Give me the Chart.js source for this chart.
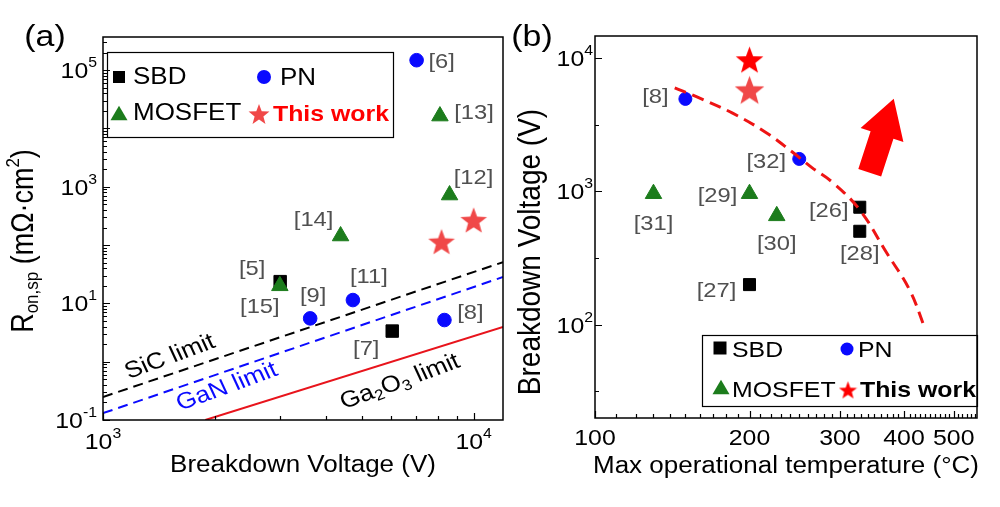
<!DOCTYPE html>
<html>
<head>
<meta charset="utf-8">
<script src="https://cdn.jsdelivr.net/npm/chart.js@4/dist/chart.umd.min.js"></script>
<style>
  body { margin: 0; background: #fff; }
  #wrap { position: relative; width: 1000px; height: 507px; overflow: hidden; }
  canvas { position: absolute; top: 0; }
  #chartA { left: 0; }
  #chartB { left: 500px; }
</style>
</head>
<body>
<div id="wrap">
  <canvas id="chartA" width="520" height="507"></canvas>
  <canvas id="chartB" width="500" height="507"></canvas>
</div>
<script>
// ---- panel (a): Ron,sp vs breakdown voltage ----
const sbdV = [3006, 6030];
const sbdR = [23.6, 3.35];
const sbdRefs = ['[5]', '[7]'];
const pnV = [7016, 3622, 4723, 8340];
const pnR = [148000, 5.53, 11.4, 5.18];
const pnRefs = ['[6]', '[9]', '[11]', '[8]'];
const mosV = [3000, 4375, 8610, 8110];
const mosR = [20, 143, 721, 16300];
const mosRefs = ['[15]', '[14]', '[12]', '[13]'];
const starV = [8190, 10000];
const starR = [114, 268];
const limitV = [1000, 12000];
const sicR = [0.248, 51];
const ganR = [0.131, 28.3];
const ga2o3V = [1888, 12000];
const ga2o3R = [0.1, 3.93];
const xTicksA = [1000, 10000];
const yTicksA = [0.1, 10, 1000, 100000];

// ---- panel (b): breakdown voltage vs max operational temperature ----
const sbdT = [328, 328, 200];
const sbdBV = [760, 502, 200];
const sbdRefsB = ['[26]', '[28]', '[27]'];
const pnT = [150, 250];
const pnBV = [4930, 1750];
const pnRefsB = ['[8]', '[32]'];
const mosT = [130, 200, 226];
const mosBV = [960, 960, 655];
const mosRefsB = ['[31]', '[29]', '[30]'];
const starT = [200, 200];
const starBV = [9700, 5760];
const trendT = [143, 158, 185, 216, 242, 265, 290, 328, 370, 410, 439];
const trendBV = [5960, 5100, 3870, 2740, 1980, 1500, 1170, 726, 346, 183, 95];
const arrowFrom = [343, 1377];
const arrowTo = [382, 4936];
const xTicksB = [100, 200, 300, 400, 500];
const yTicksB = [100, 1000, 10000];

// label offsets (px from the marker)
const sbdOffA = [[-28, -12], [-26, 18]];
const pnOffA = [[25, 2], [3, -22], [16, -23], [26, -7]];
const mosOffA = [[-20, 21], [-27, -16], [24, -17], [34, -3]];
const sbdOffB = [[-31, 4], [0, 23], [-33, 7]];
const pnOffB = [[-30, -2], [-33, 3]];
const mosOffB = [[0, 30], [-32, 2], [0, 28]];

const SX = 1.13;
const FONT = '"Liberation Sans", Arial, sans-serif';
const GREEN = '#1c7c1c';
const BLUE = '#0a0aff';
const GRAY = '#505050';
const f = (px, bold) => (bold ? 'bold ' : '') + px + 'px ' + FONT;
const pts = (xs, ys) => xs.map((v, i) => ({ x: v, y: ys[i] }));

function makeStar(size, color) {
  const c = document.createElement('canvas');
  c.width = c.height = size;
  const g = c.getContext('2d');
  const R = size / 2, r = R * 0.42, cy = R * 1.09;
  g.beginPath();
  for (let i = 0; i < 10; i++) {
    const a = -Math.PI / 2 + i * Math.PI / 5;
    const rr = i % 2 ? r : R;
    g.lineTo(R + rr * Math.cos(a), cy + rr * Math.sin(a));
  }
  g.closePath();
  g.fillStyle = color;
  g.fill();
  return c;
}

// text made of runs (for super/subscripts), stretched a bit horizontally
function drawRuns(ctx, runs, x, y, align, angle, color) {
  ctx.save();
  ctx.translate(x, y);
  ctx.scale(SX, 1);
  if (angle) ctx.rotate(angle);
  let w = 0;
  runs.forEach(r => { ctx.font = r.f; w += ctx.measureText(r.t).width; });
  let cx = align === 'left' ? 0 : align === 'right' ? -w : -w / 2;
  ctx.textBaseline = 'middle';
  ctx.textAlign = 'left';
  runs.forEach(r => {
    ctx.font = r.f;
    ctx.fillStyle = r.c || color || '#000';
    ctx.fillText(r.t, cx, r.dy || 0);
    cx += ctx.measureText(r.t).width;
  });
  ctx.restore();
}
const txt = (ctx, s, x, y, font, align, color, angle) =>
  drawRuns(ctx, [{ t: s, f: font }], x, y, align, angle, color);
const pow10 = v => [{ t: '10', f: f(22) }, { t: String(Math.round(Math.log10(v))), f: f(14), dy: -9 }];

function logMinors(min, max, steps) {
  const out = [];
  for (let d = Math.floor(Math.log10(min)); d <= Math.ceil(Math.log10(max)); d++) {
    steps.forEach(m => { const v = m * Math.pow(10, d); if (v >= min && v <= max) out.push(v); });
  }
  return out;
}

function drawFrame(chart, xMaj, xMin, yMaj, yMin) {
  const { ctx, chartArea: a, scales: { x, y } } = chart;
  ctx.save();
  ctx.strokeStyle = '#000';
  ctx.lineWidth = 1.5;
  ctx.strokeRect(a.left, a.top, a.right - a.left, a.bottom - a.top);
  ctx.beginPath();
  const tx = (v, len) => { const p = Math.round(x.getPixelForValue(v)) + 0.5; ctx.moveTo(p, a.bottom); ctx.lineTo(p, a.bottom - len); };
  const ty = (v, len) => { const p = Math.round(y.getPixelForValue(v)) + 0.5; ctx.moveTo(a.left, p); ctx.lineTo(a.left + len, p); };
  xMaj.forEach(v => tx(v, 7));
  xMin.forEach(v => tx(v, 4));
  yMaj.forEach(v => ty(v, 7));
  yMin.forEach(v => ty(v, 4));
  ctx.lineWidth = 1.2;
  ctx.stroke();
  ctx.restore();
}

function drawRefs(chart, xs, ys, refs, offs) {
  const { ctx, scales: { x, y } } = chart;
  refs.forEach((s, i) => {
    const px = x.getPixelForValue(xs[i]) + offs[i][0];
    const py = y.getPixelForValue(ys[i]) + offs[i][1];
    txt(ctx, s, px, py, f(21), 'center', GRAY);
  });
}

function marker(ctx, kind, cx, cy, size, color) {
  ctx.save();
  ctx.fillStyle = color;
  ctx.beginPath();
  if (kind === 'rect') ctx.rect(cx - size / 2, cy - size / 2, size, size);
  if (kind === 'circle') ctx.arc(cx, cy, size / 2, 0, Math.PI * 2);
  if (kind === 'triangle') {
    const h = size * 0.85;
    ctx.moveTo(cx, cy - h / 2); ctx.lineTo(cx + size / 2, cy + h / 2); ctx.lineTo(cx - size / 2, cy + h / 2);
    ctx.closePath();
  }
  ctx.fill();
  ctx.restore();
}

const starLightA = makeStar(28, '#f04848');
const starLightB = makeStar(31, '#f04848');
const starRedB = makeStar(29, '#ff0000');
const legendStarA = makeStar(22, '#f04848');
const legendStarB = makeStar(19, '#ff0000');

const hiddenScale = (min, max, fitKey) => ({
  type: 'logarithmic', min: min, max: max,
  ticks: { display: false }, grid: { display: false }, border: { display: false },
  afterFit: s => { s[fitKey] = 0; }
});

const decorA = {
  id: 'decorA',
  afterDatasetsDraw(chart) {
    const { ctx } = chart;
    drawRefs(chart, sbdV, sbdR, sbdRefs, sbdOffA);
    drawRefs(chart, pnV, pnR, pnRefs, pnOffA);
    drawRefs(chart, mosV, mosR, mosRefs, mosOffA);
    // limit labels
    const ang = -Math.atan(Math.tan(20 * Math.PI / 180) * SX);
    txt(ctx, 'SiC limit', 170, 357, f(23), 'center', '#000', ang);
    txt(ctx, 'GaN limit', 227, 387, f(23), 'center', BLUE, ang);
    drawRuns(ctx, [
      { t: 'Ga', f: f(23) }, { t: '2', f: f(15), dy: 6 }, { t: 'O', f: f(23) },
      { t: '3', f: f(15), dy: 6 }, { t: ' limit', f: f(23) }
    ], 400, 382, 'center', ang, '#000');
    // legend
    ctx.save();
    ctx.fillStyle = '#fff';
    ctx.fillRect(107, 52, 286, 85);
    ctx.strokeStyle = '#000';
    ctx.lineWidth = 1.2;
    ctx.strokeRect(107.5, 52.5, 286, 85);
    ctx.restore();
    marker(ctx, 'rect', 119, 77, 12, '#000');
    txt(ctx, 'SBD', 133, 78, f(23), 'left');
    marker(ctx, 'circle', 264, 77, 14, BLUE);
    txt(ctx, 'PN', 280, 79, f(23), 'left');
    marker(ctx, 'triangle', 119, 113, 17, GREEN);
    txt(ctx, 'MOSFET', 133, 114, f(23), 'left');
    ctx.drawImage(legendStarA, 259 - 11, 114 - 11);
    txt(ctx, 'This work', 273, 115, f(22, true), 'left', '#ff0000');
  },
  afterDraw(chart) {
    const { ctx, chartArea: a, scales: { x, y } } = chart;
    drawFrame(chart, logMinors(1000, 12000, [1]), logMinors(1000, 12000, [2, 3, 4, 5, 6, 7, 8, 9]),
      logMinors(0.1, 3.7e5, [1]), logMinors(0.1, 3.7e5, [2, 3, 4, 5, 6, 7, 8, 9]));
    xTicksA.forEach(v => drawRuns(ctx, pow10(v), x.getPixelForValue(v), a.bottom + 23, 'center'));
    yTicksA.forEach(v => drawRuns(ctx, pow10(v), a.left - 6, y.getPixelForValue(v) + 2, 'right'));
    txt(ctx, 'Breakdown Voltage (V)', 303, 466, f(23), 'center');
    drawRuns(ctx, [
      { t: 'R', f: f(27) }, { t: 'on,sp', f: f(17), dy: 7 }, { t: ' (mΩ·cm', f: f(27) },
      { t: '2', f: f(17), dy: -10 }, { t: ')', f: f(27) }
    ], 25, 241, 'center', -Math.PI / 2);
    txt(ctx, '(a)', 45, 38, f(30), 'center');
  }
};

const decorB = {
  id: 'decorB',
  afterDatasetsDraw(chart) {
    const { ctx, scales: { x, y } } = chart;
    drawRefs(chart, sbdT, sbdBV, sbdRefsB, sbdOffB);
    drawRefs(chart, pnT, pnBV, pnRefsB, pnOffB);
    drawRefs(chart, mosT, mosBV, mosRefsB, mosOffB);
    // trend arrow
    const x0 = x.getPixelForValue(arrowFrom[0]), y0 = y.getPixelForValue(arrowFrom[1]);
    const x1 = x.getPixelForValue(arrowTo[0]), y1 = y.getPixelForValue(arrowTo[1]);
    const len = Math.hypot(x1 - x0, y1 - y0);
    ctx.save();
    ctx.translate(x0, y0);
    ctx.rotate(Math.atan2(y1 - y0, x1 - x0));
    const hl = 38, hw = 22.5, sw = 12;
    ctx.beginPath();
    ctx.moveTo(0, -sw); ctx.lineTo(len - hl, -sw); ctx.lineTo(len - hl, -hw);
    ctx.lineTo(len, 0);
    ctx.lineTo(len - hl, hw); ctx.lineTo(len - hl, sw); ctx.lineTo(0, sw);
    ctx.closePath();
    ctx.fillStyle = '#ff0000';
    ctx.fill();
    ctx.restore();
    // legend
    ctx.save();
    ctx.fillStyle = '#fff';
    ctx.fillRect(202, 335, 275, 71);
    ctx.strokeStyle = '#000';
    ctx.lineWidth = 1.2;
    ctx.strokeRect(202.5, 335.5, 275, 71);
    ctx.restore();
    marker(ctx, 'rect', 220, 348, 13, '#000');
    txt(ctx, 'SBD', 232, 351, f(22), 'left');
    marker(ctx, 'circle', 347, 349, 13, BLUE);
    txt(ctx, 'PN', 358, 351, f(22), 'left');
    marker(ctx, 'triangle', 221, 387, 17, GREEN);
    txt(ctx, 'MOSFET', 232, 391, f(22), 'left');
    ctx.drawImage(legendStarB, 348 - 9.5, 390 - 9.5);
    txt(ctx, 'This work', 360, 391, f(22, true), 'left', '#000');
  },
  afterDraw(chart) {
    const { ctx, chartArea: a, scales: { x, y } } = chart;
    const xMinor = [];
    for (let v = 110; v <= 555; v += 10) if (v % 100) xMinor.push(v);
    drawFrame(chart, xTicksB, xMinor, yTicksB, [31.6, 316, 3162]);
    xTicksB.forEach(v => txt(ctx, String(v), x.getPixelForValue(v), a.bottom + 21, f(22), 'center'));
    yTicksB.forEach(v => drawRuns(ctx, pow10(v), a.left - 2, y.getPixelForValue(v) + 2, 'right'));
    txt(ctx, 'Max operational temperature (°C)', 286, 467, f(23), 'center');
    txt(ctx, 'Breakdown Voltage (V)', 31, 252, f(28), 'center', '#000', -Math.PI / 2);
    txt(ctx, '(b)', 32, 38, f(30), 'center');
  }
};

Chart.defaults.font.family = FONT;

new Chart(document.getElementById('chartA'), {
  type: 'scatter',
  data: {
    datasets: [
      { data: pts(starV, starR), pointStyle: starLightA, pointRadius: 14 },
      { data: pts(mosV, mosR), pointStyle: 'triangle', pointRadius: 9.5, backgroundColor: GREEN, borderColor: GREEN, borderWidth: 1 },
      { data: pts(pnV, pnR), pointStyle: 'circle', pointRadius: 6.8, backgroundColor: BLUE, borderColor: BLUE, borderWidth: 1 },
      { data: pts(sbdV, sbdR), pointStyle: 'rect', pointRadius: 8.8, backgroundColor: '#000', borderColor: '#000', borderWidth: 1 },
      { data: pts(ga2o3V, ga2o3R), showLine: true, borderColor: '#e8141c', borderWidth: 2, pointRadius: 0 },
      { data: pts(limitV, ganR), showLine: true, borderColor: BLUE, borderDash: [10, 6], borderWidth: 2, pointRadius: 0 },
      { data: pts(limitV, sicR), showLine: true, borderColor: '#000', borderDash: [10, 6], borderWidth: 2, pointRadius: 0 }
    ]
  },
  options: {
    responsive: false,
    animation: false,
    events: [],
    layout: { padding: { left: 103, top: 37, right: 17, bottom: 87 } },
    plugins: { legend: { display: false }, tooltip: { enabled: false } },
    scales: {
      x: hiddenScale(1000, 12000, 'height'),
      y: hiddenScale(0.1, 3.7e5, 'width')
    }
  },
  plugins: [decorA]
});

new Chart(document.getElementById('chartB'), {
  type: 'scatter',
  data: {
    datasets: [
      { data: pts(trendT, trendBV), showLine: true, tension: 0.4, borderColor: '#ee1414', borderDash: [12, 7], borderWidth: 3, pointRadius: 0 },
      { data: pts(starT, starBV), pointStyle: [starRedB, starLightB], pointRadius: 14 },
      { data: pts(mosT, mosBV), pointStyle: 'triangle', pointRadius: 9.5, backgroundColor: GREEN, borderColor: GREEN, borderWidth: 1 },
      { data: pts(pnT, pnBV), pointStyle: 'circle', pointRadius: 6.5, backgroundColor: BLUE, borderColor: BLUE, borderWidth: 1 },
      { data: pts(sbdT, sbdBV), pointStyle: 'rect', pointRadius: 8.5, backgroundColor: '#000', borderColor: '#000', borderWidth: 1 }
    ]
  },
  options: {
    responsive: false,
    animation: false,
    events: [],
    layout: { padding: { left: 95, top: 36, right: 23, bottom: 89 } },
    plugins: { legend: { display: false }, tooltip: { enabled: false } },
    scales: {
      x: hiddenScale(100, 555, 'height'),
      y: hiddenScale(20, 14600, 'width')
    }
  },
  plugins: [decorB]
});
</script>
</body>
</html>
